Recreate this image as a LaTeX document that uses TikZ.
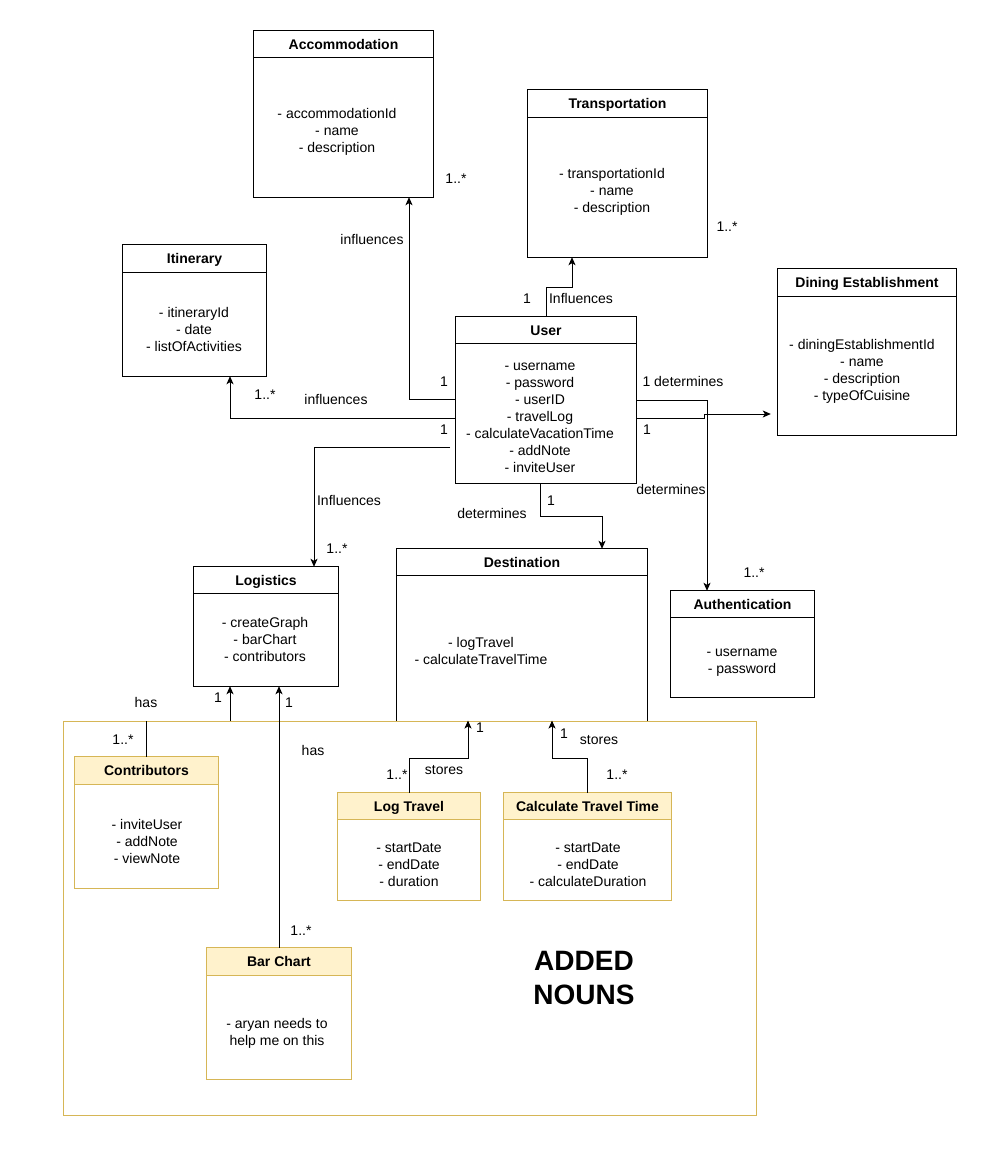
\documentclass[tikz,border=0pt]{standalone}
\usepackage{fontspec}
\setmainfont{Liberation Sans}
\usetikzlibrary{fit,arrows.meta}
\definecolor{goldline}{HTML}{D6B656}
\definecolor{yfill}{HTML}{FFF2CC}
\tikzset{
  ttl/.style={font=\fontsize{14}{17}\selectfont\bfseries, inner sep=0pt, text height=10pt, text depth=0pt},
  attr/.style={font=\fontsize{14}{17}\selectfont, align=center, inner sep=0pt},
  lbl/.style={font=\fontsize{14}{17}\selectfont, inner sep=0pt, text height=10pt, text depth=0pt},
  conn/.style={draw=black, line width=1pt},
  arr/.style={conn, -{Stealth[length=8pt,width=7pt,inset=2pt]}},
}
% #1 name, #2 border colour, #3 header fill, #4 corners, #5 header height, #6 title
\newcommand\umlclass[6]{%
  \node[fit={#4}, inner sep=0pt, fill=white] (#1) {};
  \fill[#3] (#1.north west) rectangle ([yshift=-#5]#1.north east);
  \draw[#2, line width=1pt] (#1.north west) rectangle (#1.south east);
  \draw[#2, line width=1pt] ([yshift=-#5]#1.north west) -- ([yshift=-#5]#1.north east);
  \node[ttl] at ([yshift=-#5/2]#1.north) {#6};
}
\begin{document}
\begin{tikzpicture}[x=1pt,y=-1pt]
\useasboundingbox[fill=white] (0,0) rectangle (996,1168);

% classes
\umlclass{acc}{black}{white}{(254,31) (433,197)}{27pt}{Accommodation}
\node[attr] at (337,132) {- accommodationId\\- name\\- description};

\umlclass{trans}{black}{white}{(528,90) (707,257)}{28pt}{Transportation}
\node[attr] at (612,192) {- transportationId\\- name\\- description};

\umlclass{itin}{black}{white}{(123,245) (266,376)}{28pt}{Itinerary}
\node[attr] at (194,329) {- itineraryId\\- date\\- listOfActivities};

\umlclass{user}{black}{white}{(456,317) (636,483)}{27pt}{User}
\node[attr] at (540,418) {- username\\- password\\- userID\\- travelLog\\- calculateVacationTime\\- addNote\\- inviteUser};

\umlclass{dine}{black}{white}{(778,269) (956,435)}{28pt}{Dining Establishment}
\node[attr] at (862,371) {- diningEstablishmentId\\- name\\- description\\- typeOfCuisine};

\umlclass{auth}{black}{white}{(671,591) (814,697)}{27pt}{Authentication}
\node[attr] at (742,663) {- username\\- password};

\umlclass{logi}{black}{white}{(194,567) (338,686)}{27pt}{Logistics}
\node[attr] at (265,639) {- createGraph\\- barChart\\- contributors};

\umlclass{dest}{black}{white}{(397,549) (647,760)}{27pt}{Destination}
\node[attr] at (481,651) {- logTravel\\- calculateTravelTime};

% connectors from User
\coordinate (lgs) at (450,447);
\draw[arr] (user.west |- 0,399) -| (acc.south -| 409,0);
\draw[arr] (user.north) -- (546,287) -| (trans.south -| 572,0);
\draw[arr] (user.west |- 0,418) -| (itin.south -| 230,0);
\draw[arr] (lgs) -| (logi.north -| 314,0);
\draw[arr] (user.south -| 540,0) -- (540,516) -| (dest.north -| 602,0);
\draw[arr] (user.east |- 0,400) -| (auth.north -| 707,0);
\draw[arr, shorten >=7pt] (user.east |- 0,418) -- (704,418) -- (704,414) -- (dine.west |- 0,414);

% labels upper part
\node[lbl] at (456,178) {1..*};
\node[lbl] at (372,239) {influences};
\node[lbl] at (727,226) {1..*};
\node[lbl] at (527,298) {1};
\node[lbl] at (581,298) {Influences};
\node[lbl] at (265,394) {1..*};
\node[lbl] at (336,399) {influences};
\node[lbl] at (444,381) {1};
\node[lbl] at (444,429) {1};
\node[lbl] at (349,500) {Influences};
\node[lbl] at (337,548) {1..*};
\node[lbl] at (492,513) {determines};
\node[lbl] at (551,500) {1};
\node[lbl] at (683,381) {1 determines};
\node[lbl] at (647,429) {1};
\node[lbl] at (671,489) {determines};
\node[lbl] at (754,572) {1..*};

% added nouns area
\node[fit={(63,721) (756,1115)}, inner sep=0pt, fill=white, draw=goldline, line width=1pt] (added) {};
\node[font=\fontsize{28}{34}\selectfont\bfseries, align=center, inner sep=0pt] (addedlbl) at (584,978) {ADDED\\NOUNS};

\umlclass{contrib}{goldline}{yfill}{(75,757) (218,888)}{28pt}{Contributors}
\node[attr] at (147,841) {- inviteUser\\- addNote\\- viewNote};

\umlclass{logt}{goldline}{yfill}{(338,793) (480,900)}{27pt}{Log Travel}
\node[attr] at (409,865) {- startDate\\- endDate\\- duration};

\umlclass{ctt}{goldline}{yfill}{(504,793) (671,900)}{27pt}{Calculate Travel Time}
\node[attr] at (588,865) {- startDate\\- endDate\\- calculateDuration};

\umlclass{bar}{goldline}{yfill}{(207,948) (351,1079)}{28pt}{Bar Chart}
\node[attr] at (277,1033) {- aryan needs to\\help me on this};

% connectors lower part
\draw[conn] (contrib.north) -- (contrib.north |- added.north);
\draw[arr] (added.north -| 230,0) -- (logi.south -| 230,0);
\draw[arr] (bar.north) -- (logi.south -| bar.north);
\draw[arr] (logt.north) -- (409,758) -| (added.north -| 468,0);
\draw[arr] (ctt.north) -- (587.5,758) -| (added.north -| 552,0);

% labels lower part
\node[lbl] at (218,697) {1};
\node[lbl] at (289,702) {1};
\node[lbl] at (146,702) {has};
\node[lbl] at (123,739) {1..*};
\node[lbl] at (313,750) {has};
\node[lbl] at (480,727) {1};
\node[lbl] at (444,769) {stores};
\node[lbl] at (397,774) {1..*};
\node[lbl] at (564,733) {1};
\node[lbl] at (599,739) {stores};
\node[lbl] at (617,774) {1..*};
\node[lbl] at (301,930) {1..*};
\end{tikzpicture}
\end{document}
